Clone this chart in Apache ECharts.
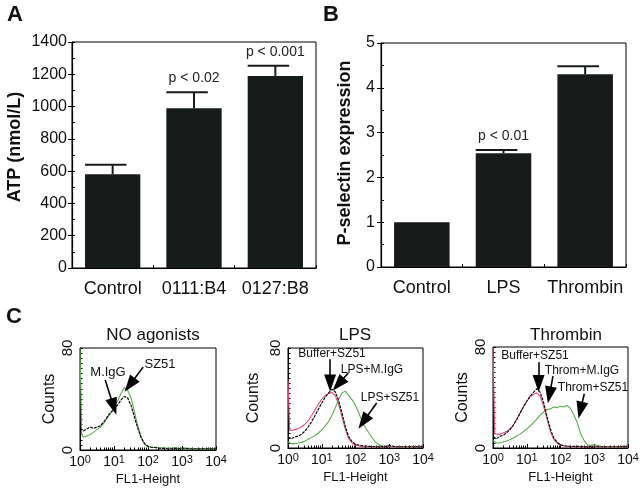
<!DOCTYPE html>
<html><head><meta charset="utf-8">
<script src="https://cdn.jsdelivr.net/npm/echarts@6/dist/echarts.min.js"></script>
<style>html,body{margin:0;padding:0;background:#fff}#c{width:642px;height:489px}</style>
</head><body><div id="c"></div>
<script>
// ---- Panel A: ATP ----
const atpCategories = ['Control', '0111:B4', '0127:B8'];
const atpMean = [580, 990, 1190];
const atpErrTop = [640, 1088, 1253];
const atpP = ['', 'p < 0.02', 'p < 0.001'];
const atpMin = 0, atpMax = 1400, atpStep = 200;

// ---- Panel B: P-selectin ----
const pselCategories = ['Control', 'LPS', 'Thrombin'];
const pselMean = [1.0, 2.54, 4.3];
const pselErrTop = [1.0, 2.61, 4.48];
const pselP = ['', 'p < 0.01', ''];
const pselMin = 0, pselMax = 5, pselStep = 1;

// ---- Panel C: flow cytometry histograms (FL1-Height vs Counts) ----
const fl1 = [1, 1.12, 1.26, 1.58, 2.0, 2.51, 3.16, 3.98, 5.01, 6.31, 7.94, 10, 12.6, 15.8, 20.0, 25.1, 31.6, 39.8, 50.1, 63.1, 79.4,
  100, 126, 158, 200, 251, 316, 398, 501, 631, 794, 1000, 1585, 2512, 3981, 6310, 10000];
const noAgIgG  = [17, 16, 15, 16.5, 18, 17, 18, 19, 22, 26, 29.5, 31.5, 35, 39, 42, 41, 35, 26, 17, 9.5, 5, 3, 2.2, 2, 1.5, 1.3, 1.2, 1, 1, 1.5, 1, 1.5, 1, 1, 1, 1, 1];
const noAgSZ51 = [80, 12, 10, 11, 12, 14, 16, 18, 21, 25, 29, 33, 38, 44, 49, 47, 41, 30, 19, 10, 4.5, 2.6, 2.2, 2, 1.8, 1.7, 1.6, 1.5, 1.5, 1.4, 1.4, 1.3, 1.3, 1.2, 1.2, 1.1, 1];
const lpsBuffer = [9, 8.8, 7.5, 8.8, 9.5, 11, 13.5, 17, 21, 26, 31, 36, 40.5, 44, 47, 45, 38, 28, 17, 9, 5, 3, 2.3, 1.9, 1.6, 1.3, 1.2, 1, 1, 1, 1.2, 2, 1, 1, 1, 1, 1];
const lpsIgG   = [55, 14, 13, 14.5, 15.5, 17, 19, 22, 26, 30.5, 35, 39, 42, 43.5, 44.5, 42, 35, 25, 15, 7.5, 4, 2.2, 1.6, 1.3, 1.2, 1.1, 1, 1, 1, 1, 1, 1, 1, 1, 1, 1, 1];
const lpsSZ51  = [5, 4.8, 3.5, 3.5, 4, 4.5, 5.5, 7, 8.5, 10, 12, 14.5, 17.5, 21, 26, 32, 39, 44, 45.5, 42, 38.5, 34, 28, 21, 16, 12, 8, 4.5, 2.5, 1.5, 1.3, 1.2, 1.1, 1, 1, 1, 1];
const thrBuffer = [9, 8.7, 7.4, 9.2, 10, 12, 14.5, 18, 22.5, 27.5, 32.5, 37, 41, 44, 47, 44, 36, 25, 15, 8, 4.5, 2.5, 1.8, 1.6, 1.4, 1.3, 1.3, 1.2, 1.1, 1, 1, 1, 1, 1, 1, 1, 1];
const thrIgG   = [80, 11.3, 11.9, 10.8, 11.9, 13, 15, 18, 22.5, 27.5, 32.5, 37, 40.5, 42.5, 43.5, 41, 33, 23, 13, 7, 3.8, 2.2, 1.6, 1.3, 1.2, 1.1, 1, 1, 1, 1, 1, 1, 1, 1, 1, 1, 1];
const thrSZ51  = [6, 6, 4, 4, 4.7, 5.5, 6.6, 8, 9.5, 11, 13, 15, 17.5, 20, 23, 26, 28.5, 30.5, 31, 32.5, 32, 33, 32.5, 33.8, 31, 26, 20, 11, 6, 2.6, 2.1, 2.6, 1.3, 1, 0.8, 0.8, 0.8];
const cntMin = 0, cntMax = 80;
const flMin = 1, flMax = 10000;

// annotation arrows [fromX, fromY, toX, toY] in data units
const arrowsNoAg = [[5.5, 55, 9.8, 34], [72, 65, 29, 51]];
const arrowsLps  = [[17.7, 71, 17.7, 52], [61, 60, 31, 51]];
const arrowsLps2 = [[424, 36, 170, 21]];
const arrowsThr  = [[22.4, 68, 22.4, 51], [60, 57, 47, 42], [507, 43, 390, 30]];

const FONT = 'Liberation Sans, Arial, Helvetica, sans-serif';
const BAR = '#171c1b';
const GREEN = '#58ad4c';
const PINK = '#e4467e';

function errRenderer(errArr, pArr, barFrac) {
  return function (params, api) {
    const i = params.dataIndex;
    const mean = api.value(1), top = api.value(2);
    const c = api.coord([i, mean]);
    const t = api.coord([i, top]);
    const bw = api.size([1, 0])[0] * barFrac;
    const ch = [];
    if (top > mean) {
      ch.push({type: 'line', shape: {x1: c[0], y1: c[1], x2: t[0], y2: t[1]}, style: {stroke: BAR, lineWidth: 2}});
      ch.push({type: 'line', shape: {x1: c[0] - bw / 2, y1: t[1], x2: c[0] + bw / 4, y2: t[1]}, style: {stroke: BAR, lineWidth: 2}});
    }
    if (pArr[i]) {
      ch.push({type: 'text', x: c[0], y: t[1] - 14, style: {text: pArr[i], font: '14px ' + FONT, fill: '#222', textAlign: 'center', textVerticalAlign: 'middle'}});
    }
    return {type: 'group', children: ch};
  };
}

function histLine(data, color, xi, width, type) {
  return {
    type: 'line', xAxisIndex: xi, yAxisIndex: xi, showSymbol: false, symbol: 'none', silent: true, animation: false,
    data: fl1.map((x, k) => [x, data[k]]),
    lineStyle: {color: color, width: width || 1.1, type: type || 'solid'}, z: 3
  };
}
function arrowSeries(arrows, xi) {
  return {
    type: 'line', xAxisIndex: xi, yAxisIndex: xi, data: [], silent: true, animation: false, z: 5,
    markLine: {
      silent: true, animation: false, symbol: ['none', 'triangle'], symbolSize: [12, 17],
      label: {show: false}, lineStyle: {color: '#000', width: 1.6, type: 'solid'},
      data: arrows.map(a => [{coord: [a[0], a[1]]}, {coord: [a[2], a[3]]}])
    }
  };
}

const histGrids = [
  {left: 80, top: 348, width: 136, height: 102},
  {left: 288, top: 348, width: 135, height: 100},
  {left: 493, top: 347, width: 135, height: 101}
];

function histX(gi) {
  return {
    type: 'log', logBase: 10, gridIndex: gi, min: flMin, max: flMax,
    name: 'FL1-Height', nameLocation: 'middle', nameGap: 23,
    nameTextStyle: {fontFamily: FONT, fontSize: 13, color: '#111'},
    axisLine: {lineStyle: {color: '#000', width: 1}},
    axisTick: {inside: true, length: 4, lineStyle: {color: '#000'}},
    minorTick: {show: true, splitNumber: 9, length: 2.5, lineStyle: {color: '#000'}},
    splitLine: {show: false}, minorSplitLine: {show: false},
    axisLabel: {
      margin: 4, color: '#111',
      formatter: v => '{b|10}{s|' + Math.round(Math.log10(v)) + '}',
      rich: {b: {fontFamily: FONT, fontSize: 14, color: '#111', verticalAlign: 'bottom', lineHeight: 15},
             s: {fontFamily: FONT, fontSize: 11, color: '#111', verticalAlign: 'top', lineHeight: 11, padding: [0, 0, 6, 0]}}
    }
  };
}
function histY(gi, gap) {
  return {
    type: 'value', gridIndex: gi, min: cntMin, max: cntMax, interval: 80,
    name: 'Counts', nameLocation: 'middle', nameGap: gap,
    nameTextStyle: {fontFamily: FONT, fontSize: 16, color: '#111'},
    axisLine: {show: true, lineStyle: {color: '#000', width: 1}},
    axisTick: {show: true, inside: true, length: 3, lineStyle: {color: '#000'}},
    minorTick: {show: true, splitNumber: 20, length: 2.5, lineStyle: {color: '#000'}},
    splitLine: {show: false},
    axisLabel: {rotate: 90, fontFamily: FONT, fontSize: 15, color: '#111', margin: 5}
  };
}

const barAxisLabel = {fontFamily: FONT, fontSize: 16, color: '#111', formatter: v => String(v)};

const option = {
  backgroundColor: '#fff',
  animation: false,
  title: [
    {text: 'NO agonists', left: 148, top: 322, textAlign: 'center', textStyle: {fontFamily: FONT, fontSize: 17, fontWeight: 'normal', color: '#111'}},
    {text: 'LPS', left: 350, top: 322, textAlign: 'center', textStyle: {fontFamily: FONT, fontSize: 17, fontWeight: 'normal', color: '#111'}},
    {text: 'Thrombin', left: 561, top: 322, textAlign: 'center', textStyle: {fontFamily: FONT, fontSize: 17, fontWeight: 'normal', color: '#111'}}
  ],
  grid: [
    {left: 72, top: 42, width: 244, height: 226, show: true, borderColor: '#000', borderWidth: 1, backgroundColor: 'transparent'},
    {left: 381, top: 43, width: 245, height: 224, show: true, borderColor: '#000', borderWidth: 1, backgroundColor: 'transparent'},
    Object.assign({show: true, borderColor: '#000', borderWidth: 1, backgroundColor: 'transparent'}, histGrids[0]),
    Object.assign({show: true, borderColor: '#000', borderWidth: 1, backgroundColor: 'transparent'}, histGrids[1]),
    Object.assign({show: true, borderColor: '#000', borderWidth: 1, backgroundColor: 'transparent'}, histGrids[2])
  ],
  xAxis: [
    {type: 'category', gridIndex: 0, data: atpCategories,
     axisLine: {lineStyle: {color: '#000', width: 1.2}},
     axisTick: {show: true, inside: true, length: 3, alignWithLabel: false, lineStyle: {color: '#000'}},
     axisLabel: {interval: 0, margin: 12, fontSize: 18, fontFamily: FONT, color: '#111', hideOverlap: false}},
    {type: 'category', gridIndex: 1, data: pselCategories,
     axisLine: {lineStyle: {color: '#000', width: 1.2}},
     axisTick: {show: true, inside: true, length: 3, alignWithLabel: false, lineStyle: {color: '#000'}},
     axisLabel: {interval: 0, margin: 12, fontSize: 18, fontFamily: FONT, color: '#111', hideOverlap: false}},
    histX(2), histX(3), histX(4)
  ],
  yAxis: [
    {type: 'value', gridIndex: 0, min: atpMin, max: atpMax, interval: atpStep,
     axisLine: {show: true, lineStyle: {color: '#000', width: 1.2}},
     axisTick: {show: true, inside: false, length: 4, lineStyle: {color: '#000'}},
     splitLine: {show: false}, axisLabel: Object.assign({margin: 5}, barAxisLabel)},
    {type: 'value', gridIndex: 1, min: pselMin, max: pselMax, interval: pselStep,
     axisLine: {show: true, lineStyle: {color: '#000', width: 1.2}},
     axisTick: {show: true, inside: false, length: 4, lineStyle: {color: '#000'}},
     splitLine: {show: false}, axisLabel: Object.assign({margin: 6}, barAxisLabel)},
    histY(2, 22), histY(3, 26), histY(4, 22),
    {type: 'value', gridIndex: 0, min: atpMin, max: atpMax, interval: atpStep / 2, position: 'left',
     axisLine: {show: false}, axisTick: {show: true, inside: true, length: 3, lineStyle: {color: '#000'}},
     axisLabel: {show: false}, splitLine: {show: false}},
    {type: 'value', gridIndex: 1, min: pselMin, max: pselMax, interval: pselStep / 2, position: 'left',
     axisLine: {show: false}, axisTick: {show: true, inside: true, length: 3, lineStyle: {color: '#000'}},
     axisLabel: {show: false}, splitLine: {show: false}}
  ],
  graphic: [
    {type: 'text', x: 15, y: 15, style: {text: 'A', font: 'bold 22px ' + FONT, fill: '#111', textAlign: 'center', textVerticalAlign: 'middle'}},
    {type: 'text', x: 331, y: 15, style: {text: 'B', font: 'bold 22px ' + FONT, fill: '#111', textAlign: 'center', textVerticalAlign: 'middle'}},
    {type: 'text', x: 14, y: 317, style: {text: 'C', font: 'bold 22px ' + FONT, fill: '#111', textAlign: 'center', textVerticalAlign: 'middle'}},
    {type: 'text', x: 15, y: 147, rotation: Math.PI / 2, style: {text: 'ATP (nmol/L)', font: 'bold 18px ' + FONT, fill: '#111', textAlign: 'center', textVerticalAlign: 'middle'}},
    {type: 'text', x: 345, y: 153, rotation: Math.PI / 2, style: {text: 'P-selectin expression', font: 'bold 18px ' + FONT, fill: '#111', textAlign: 'center', textVerticalAlign: 'middle'}},
    {type: 'text', x: 108, y: 372, style: {text: 'M.IgG', font: '13px ' + FONT, fill: '#111', textAlign: 'center', textVerticalAlign: 'middle'}},
    {type: 'text', x: 160, y: 364, style: {text: 'SZ51', font: '13px ' + FONT, fill: '#111', textAlign: 'center', textVerticalAlign: 'middle'}},
    {type: 'text', x: 332, y: 354, style: {text: 'Buffer+SZ51', font: '12px ' + FONT, fill: '#111', textAlign: 'center', textVerticalAlign: 'middle'}},
    {type: 'text', x: 372, y: 370, style: {text: 'LPS+M.IgG', font: '12px ' + FONT, fill: '#111', textAlign: 'center', textVerticalAlign: 'middle'}},
    {type: 'text', x: 390, y: 398, style: {text: 'LPS+SZ51', font: '12px ' + FONT, fill: '#111', textAlign: 'center', textVerticalAlign: 'middle'}},
    {type: 'text', x: 535, y: 356, style: {text: 'Buffer+SZ51', font: '12px ' + FONT, fill: '#111', textAlign: 'center', textVerticalAlign: 'middle'}},
    {type: 'text', x: 582, y: 371, style: {text: 'Throm+M.IgG', font: '12px ' + FONT, fill: '#111', textAlign: 'center', textVerticalAlign: 'middle'}},
    {type: 'text', x: 593, y: 388, style: {text: 'Throm+SZ51', font: '12px ' + FONT, fill: '#111', textAlign: 'center', textVerticalAlign: 'middle'}}
  ],
  series: [
    {type: 'bar', xAxisIndex: 0, yAxisIndex: 0, data: atpMean, barWidth: '68%', itemStyle: {color: BAR}, silent: true},
    {type: 'custom', xAxisIndex: 0, yAxisIndex: 0, data: atpMean.map((m, i) => [i, m, atpErrTop[i]]),
     renderItem: errRenderer(atpErrTop, atpP, 0.68), silent: true, z: 4},
    {type: 'bar', xAxisIndex: 1, yAxisIndex: 1, data: pselMean, barWidth: '68%', itemStyle: {color: BAR}, silent: true},
    {type: 'custom', xAxisIndex: 1, yAxisIndex: 1, data: pselMean.map((m, i) => [i, m, pselErrTop[i]]),
     renderItem: errRenderer(pselErrTop, pselP, 0.68), silent: true, z: 4},
    histLine(noAgSZ51, GREEN, 2),
    histLine(noAgIgG, '#111', 2, 1.2, [3, 1]),
    arrowSeries(arrowsNoAg, 2),
    histLine(lpsSZ51, GREEN, 3),
    histLine(lpsIgG, PINK, 3),
    histLine(lpsBuffer, '#111', 3, 1.2, [3, 1]),
    arrowSeries(arrowsLps.concat(arrowsLps2), 3),
    histLine(thrSZ51, GREEN, 4),
    histLine(thrIgG, PINK, 4),
    histLine(thrBuffer, '#111', 4, 1.2, [3, 1]),
    arrowSeries(arrowsThr, 4)
  ]
};

const chart = echarts.init(document.getElementById('c'), null, {renderer: 'canvas'});
chart.setOption(option);
</script>
</body></html>
